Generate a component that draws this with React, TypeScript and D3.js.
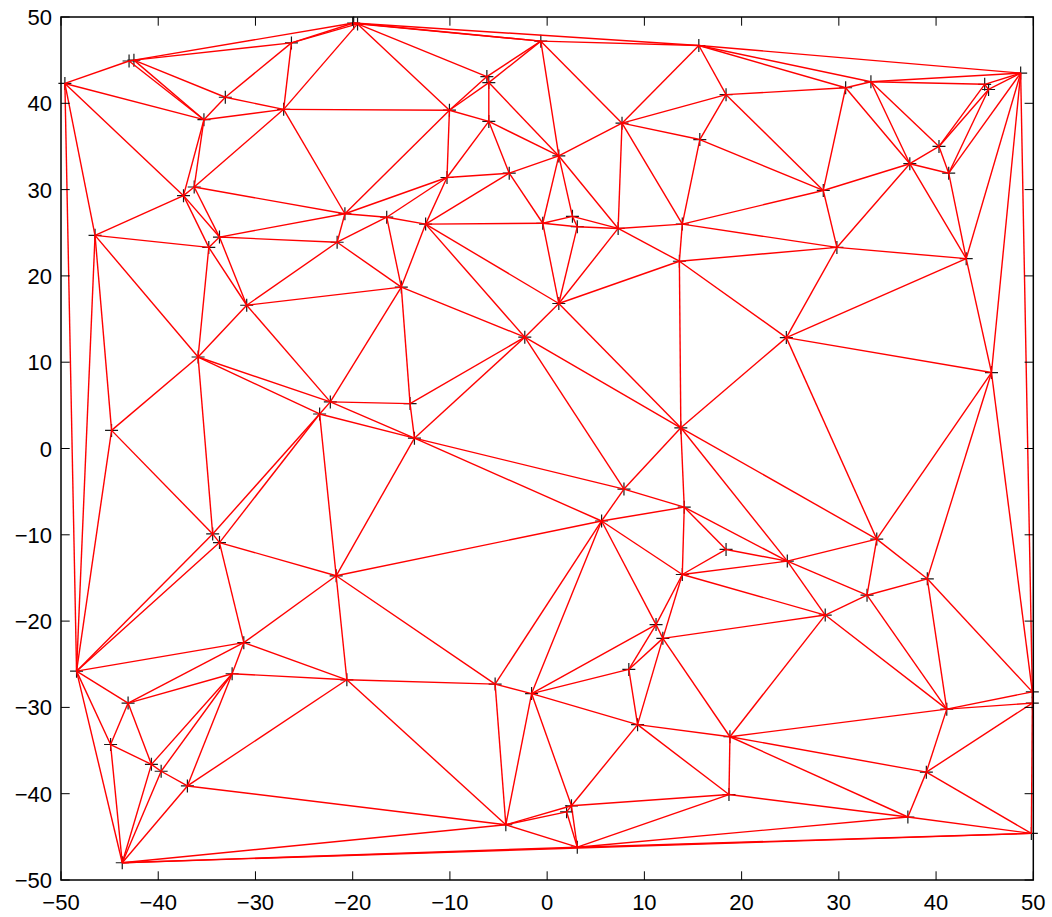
import React from "react";
import * as d3 from "d3";

// Point coordinates (x values, y values)
const xs: number[] = [
  -49.6, -43.0, -42.5, -33.1, -35.3, -26.3, -27.1, -36.3, -37.4, -46.5, -33.7, -34.8, -30.9,
  -19.9, -19.5, -0.65, -6.2, -6.0, -10.05, -6.0, -3.9, -10.3, -20.8, -16.5, -12.5, -0.45, -21.6, -15.0,
  15.6, 18.4, 7.7, 15.7, 1.2, 2.6, 3.1, 7.3, 13.9, 13.6, 1.2,
  48.7, 33.3, 30.7, 45.0, 45.4, 40.3, 37.3, 41.3, 28.4, 29.8, 43.1,
  -35.9, -44.8, -34.4, -33.7,
  -22.3, -23.4, -14.1, -13.65, -2.3, -21.7,
  13.75, 24.6, 7.9, 14.1, 5.6, 18.4, 13.9, 24.7,
  45.7, 33.9, 39.1,
  28.6, 32.9, 41.1, 49.9, 49.9, 39.0, 37.1, 49.8,
  11.2, 11.9, 8.4, -1.6, 9.3, 18.8, 18.7, 2.5, 2.0, 3.1,
  -20.6, -5.35, -4.25,
  -48.4, -31.2, -32.4, -43.1, -44.9, -40.7, -39.7, -37.0, -43.7,
];
const ys: number[] = [
  42.3, 44.9, 45.0, 40.7, 38.1, 47.0, 39.3, 30.3, 29.3, 24.7, 24.5, 23.3, 16.6,
  49.3, 49.2, 47.2, 43.1, 42.4, 39.2, 37.9, 31.9, 31.4, 27.2, 26.8, 26.0, 26.1, 23.9, 18.7,
  46.7, 41.0, 37.7, 35.8, 33.9, 26.9, 25.7, 25.5, 26.0, 21.7, 16.8,
  43.5, 42.5, 41.8, 42.2, 41.6, 35.0, 33.0, 31.9, 29.9, 23.3, 22.0,
  10.6, 2.1, -9.9, -10.9,
  5.4, 4.0, 5.2, 1.2, 12.9, -14.75,
  2.4, 12.85, -4.7, -6.8, -8.4, -11.7, -14.6, -13.05,
  8.8, -10.5, -15.1,
  -19.3, -17.0, -30.2, -28.2, -29.5, -37.5, -42.7, -44.6,
  -20.4, -22.0, -25.6, -28.4, -32.0, -33.4, -40.1, -41.4, -42.1, -46.2,
  -26.8, -27.3, -43.6,
  -25.8, -22.5, -26.1, -29.5, -34.3, -36.6, -37.4, -39.1, -48.0,
];
const tickValues: number[] = [-50, -40, -30, -20, -10, 0, 10, 20, 30, 40, 50];

const W = 1052;
const H = 917;
const left = 61;
const right = 1033.3;
const top = 17;
const bottom = 880;

const fmt = (v: number) => (v < 0 ? "\u2212" + Math.abs(v) : String(v));

export default function App() {
  const x = d3.scaleLinear().domain([-50, 50]).range([left, right]);
  const y = d3.scaleLinear().domain([-50, 50]).range([bottom, top]);
  const pts: [number, number][] = xs.map((v, i) => [v, ys[i]]);
  // triangulate in data space, then map through the scales
  const delaunay = d3.Delaunay.from(pts);
  const tri = delaunay.triangles;
  const edges = new Set<string>();
  const segs: [number, number][] = [];
  for (let t = 0; t < tri.length; t += 3) {
    const a = tri[t], b = tri[t + 1], c = tri[t + 2];
    for (const [i, j] of [[a, b], [b, c], [c, a]]) {
      const k = i < j ? `${i}-${j}` : `${j}-${i}`;
      if (!edges.has(k)) {
        edges.add(k);
        segs.push([i, j]);
      }
    }
  }
  const line = d3.line<[number, number]>().x((p) => x(p[0])).y((p) => y(p[1]));
  const tl = 8.7;
  const font = "'Liberation Sans', Arial, Helvetica, sans-serif";
  return (
    <svg
      width={W}
      height={H}
      style={{ position: "absolute", left: 0, top: 0, display: "block", background: "#fff" }}
    >
      <rect x={0} y={0} width={W} height={H} fill="#fff" />
      <g stroke="#1a1a1a" strokeWidth={1.2}>
        {pts.map((p, i) => {
          const cx = x(p[0]);
          const cy = y(p[1]);
          return (
            <path key={i} d={`M${cx - 6.5},${cy}H${cx + 6.5}M${cx},${cy - 6.5}V${cy + 6.5}`} />
          );
        })}
      </g>
      <g fill="none" stroke="#ff0000" strokeWidth={1.4}>
        {segs.map(([i, j], k) => (
          <path key={k} d={line([pts[i], pts[j]]) || ""} />
        ))}
      </g>
      <g stroke="#000" strokeWidth={1}>
        {tickValues.map((t) => (
          <g key={"t" + t}>
            <line x1={x(t)} x2={x(t)} y1={bottom} y2={bottom - tl} />
            <line x1={x(t)} x2={x(t)} y1={top} y2={top + tl} />
            <line x1={left} x2={left + tl} y1={y(t)} y2={y(t)} />
            <line x1={right} x2={right - tl} y1={y(t)} y2={y(t)} />
          </g>
        ))}
      </g>
      <rect
        x={left}
        y={top}
        width={right - left}
        height={bottom - top}
        fill="none"
        stroke="#000"
        strokeWidth={1.5}
      />
      <g fontFamily={font} fontSize={22} fill="#000">
        {tickValues.map((t) => (
          <text key={"xl" + t} x={x(t)} y={910} textAnchor="middle">
            {fmt(t)}
          </text>
        ))}
        {tickValues.map((t) => (
          <text key={"yl" + t} x={52} y={y(t) + 8} textAnchor="end">
            {fmt(t)}
          </text>
        ))}
      </g>
    </svg>
  );
}
